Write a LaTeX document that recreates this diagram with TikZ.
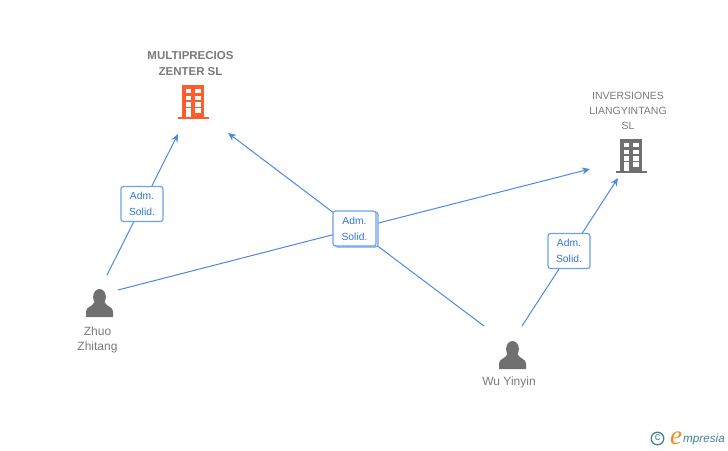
\documentclass[tikz,border=0pt]{standalone}
\usepackage{fontspec}
\setmainfont{Liberation Sans}
\newfontfamily\logoserif{Liberation Serif}
\usetikzlibrary{arrows.meta}
\definecolor{linkblue}{HTML}{4A8AE6}
\definecolor{boxblue}{HTML}{6FA0E8}
\definecolor{roletext}{HTML}{2F74DC}
\definecolor{iconred}{HTML}{FF5C2E}
\definecolor{icongrey}{HTML}{707070}
\definecolor{labelgrey}{HTML}{7A7A7A}
\definecolor{logoteal}{HTML}{3F8296}
\definecolor{logoorange}{HTML}{F08A1D}
\tikzset{
 linkline/.style={draw=linkblue,line width=1pt},
 linkarrow/.style={linkline,-{Stealth[length=8pt,width=7pt]}},
 rolebox/.style={draw=boxblue,line width=1.2pt,fill=white,rounded corners=2.5pt,minimum width=42pt,minimum height=35pt,inner sep=0pt,align=center,font=\fontsize{10.3}{16}\selectfont,text=roletext},
 tag/.style={align=center,text=labelgrey,inner sep=0pt,font=\fontsize{12}{15}\selectfont},
 firm/.style={tag,font=\fontsize{10.5}{15}\selectfont}
}
% icon is drawn around the left end of its body
\newcommand{\officeicon}[3]{
 \begin{scope}[shift={(#1,#2)}]
  \fill [#3] (0,0) rectangle (22,32);
  \fill [#3] (-4.5,31.5) rectangle (27,34);
  \foreach \yy in {4,10.7,17.3}{
   \fill [white] (3.6,\yy) rectangle (8.8,\yy+4.4);
   \fill [white] (13,\yy) rectangle (18.8,\yy+4.4);
  }
  \fill [white] (3.6,23.3) rectangle (8.8,32);
  \fill [white] (13,23.3) rectangle (18.8,28);
 \end{scope}
}
\newcommand{\personicon}[2]{
 \begin{scope}[shift={(#1,#2)}]
  \fill [icongrey] (0,0) ellipse (6.4 and 8);
  \fill [icongrey] (-13.5,20) -- (-13.5,14.5) .. controls (-13.5,9.5) and (-7,10) .. (-5,5)
   -- (5,5) .. controls (7,10) and (13.5,9.5) .. (13.5,14.5) -- (13.5,20) -- cycle;
 \end{scope}
}
\begin{document}
\begin{tikzpicture}[x=1pt,y=-1pt]
 \useasboundingbox (0,0) rectangle (728,450);
 \coordinate (zhuoa) at (107,275);
 \coordinate (zhuob) at (118,290);
 \coordinate (wua) at (484,326);
 \coordinate (wub) at (522,326);
 \coordinate (multia) at (178,134);
 \coordinate (multib) at (228,133);
 \coordinate (inva) at (590,169);
 \coordinate (invb) at (618,178);
 \coordinate (midbox) at (355,229);
 \draw [linkarrow] (zhuoa) -- (multia);
 \draw [linkarrow] (zhuob) -- (midbox) -- (inva);
 \draw [linkarrow] (wua) -- (midbox) -- (multib);
 \draw [linkarrow] (wub) -- (invb);
 \node [rolebox,minimum width=43pt] (solidc) at (356.5,229.5) {};
 \node [rolebox,minimum width=43pt] (solidb) at (354.5,228.5) {Adm.\\Solid.};
 \node [rolebox] (solida) at (142,204) {Adm.\\Solid.};
 \node [rolebox] (solidd) at (569,251) {Adm.\\Solid.};
 \officeicon{182}{85}{iconred}
 \officeicon{620}{139}{icongrey}
 \personicon{99.5}{297}
 \personicon{512.5}{349}
 \node [tag,font=\fontsize{11.5}{16}\selectfont\bfseries] (multi) at (190.5,64) {MULTIPRECIOS\\ZENTER SL};
 \node [firm] (inv) at (628,111) {INVERSIONES\\LIANGYINTANG\\SL};
 \node [tag] (zhuo) at (97.5,339.5) {Zhuo\\Zhitang};
 \node [tag] (wu) at (509,382) {Wu Yinyin};
 % logo
 \draw [logoteal,line width=1.3pt] (657.5,438.5) circle (6.3);
 \node [text=logoteal,inner sep=0pt,font=\fontsize{11}{11}\selectfont] (copy) at (657.5,438) {c};
 \node [text=logoorange,inner sep=0pt,font=\logoserif\fontsize{27}{27}\selectfont\itshape] (logoe) at (676,438) {e};
 \node [text=logoteal,inner sep=0pt,anchor=west,font=\fontsize{11.7}{12}\selectfont\itshape] (logo) at (683,439) {mpresia};
\end{tikzpicture}
\end{document}
